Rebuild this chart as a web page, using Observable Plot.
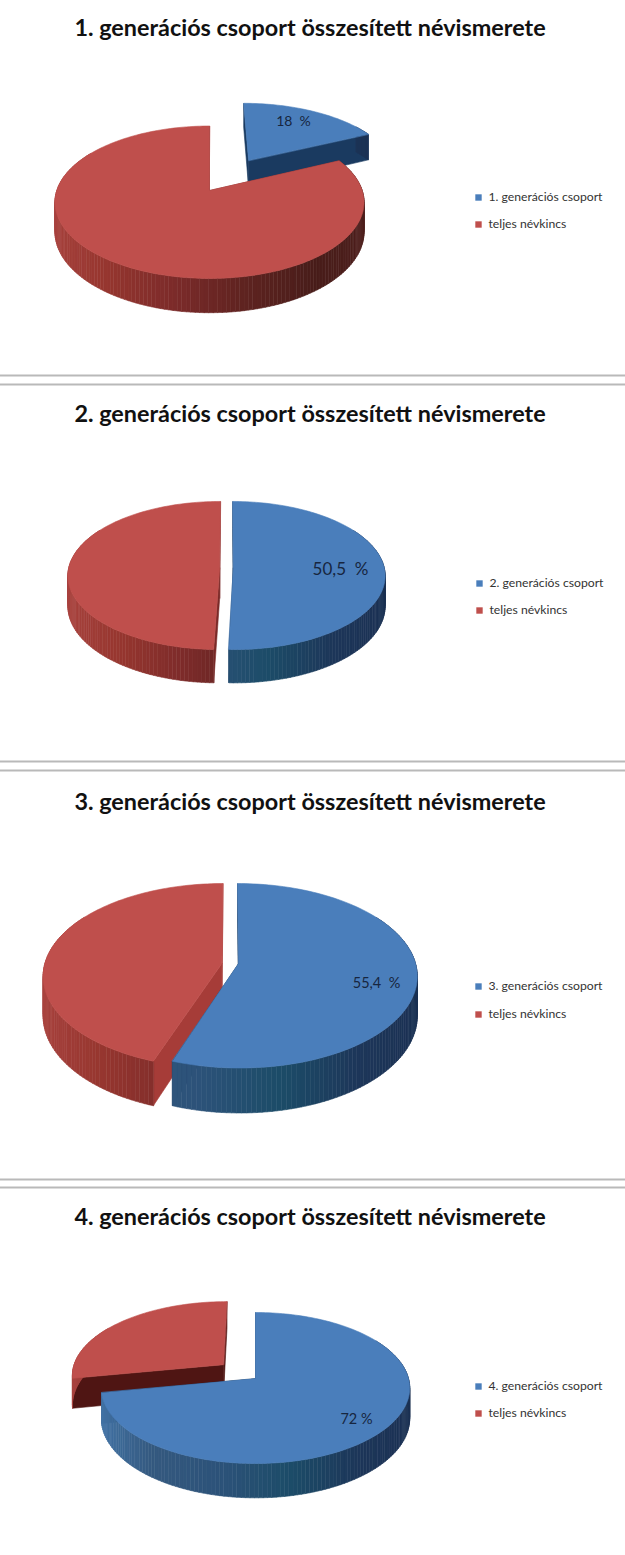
<!DOCTYPE html>
<html lang="hu">
<head>
<meta charset="utf-8">
<style>
  html, body { margin: 0; padding: 0; background: #fff; }
  svg { display: block; }
</style>
<script src="https://cdn.jsdelivr.net/npm/d3@7"></script>
<script src="https://cdn.jsdelivr.net/npm/@observablehq/plot@0.6"></script>
</head>
<body>
<div id="chart"></div>
<script>
// ---- data ----
const titles = [
  "1. generációs csoport összesített névismerete",
  "2. generációs csoport összesített névismerete",
  "3. generációs csoport összesített névismerete",
  "4. generációs csoport összesített névismerete"
];
const groupShares = [18, 50.5, 55.4, 72];
const shareLabels = ["18  %", "50,5  %", "55,4  %", "72 %"];
const legendGroups = ["1. generációs csoport", "2. generációs csoport", "3. generációs csoport", "4. generációs csoport"];
const legendRest = ["teljes névkincs", "teljes névkincs", "teljes névkincs", "teljes névkincs"];

// ---- layout and styling (not data) ----
const W = 625, H = 1555;
const BLUE = "#4a7ebb", RED = "#bf4f4c";
const SIDE_RED = ["#a9433f", "#96362f", "#7c2b2a", "#5e2320", "#481d1a", "#4f201d"];
const SIDE_BLUE = ["#4475a8", "#34597f", "#2c5279", "#1c4c68", "#1d3659", "#1b3153"];
// per pie: perspective ellipse, tilt k, wall height, explosion of each slice, paint order
const views = [
  {cx: 209, cy: 190, rx: 152.7, ry: 74.4, k: 0.154, h: 29, blueOff: [0.273, 0.43], redOff: [0, 0], order: ["blue", "red"], blueCut: "#1a3a60", redCut: "#7a2a28",
   titleY: 28, legendY: [197, 224], legendX: 478, labelX: 293, labelY: 121, labelSize: 14},
  {cx: 226, cy: 567.6, rx: 151, ry: 73.3, k: 0.1, h: 30, blueOff: [0.045, 0], redOff: [-0.045, 0], order: ["red", "blue"], blueCut: "#1a3a60", redCut: "#7a2a28",
   titleY: 414, legendY: [583, 610], legendX: 479, labelX: 340, labelY: 569, labelSize: 17},
  {cx: 229.7, cy: 963, rx: 177, ry: 90.6, k: 0.133, h: 39, blueOff: [0.047, 0], redOff: [-0.047, 0], order: ["red", "blue"], blueCut: "#1a3a60", redCut: "#a63c38",
   titleY: 802, legendY: [986, 1014], legendX: 478, labelX: 376, labelY: 983, labelSize: 14.5},
  {cx: 255, cy: 1378, rx: 153, ry: 74.3, k: 0.126, h: 30, blueOff: [0, 0], redOff: [-0.214, 0.19], order: ["red", "blue"], blueCut: "#1a3a60", redCut: "#4f1513",
   titleY: 1217, legendY: [1386, 1413], legendX: 478, labelX: 356, labelY: 1419, labelSize: 14.5}
];
const separators = [375, 384, 761, 770, 1179, 1187];

// ---- geometry: a tilted disc seen in perspective, cut by the shares ----
const rad = d3.scaleLinear([0, 100], [0, 2 * Math.PI]);
function project(view, off, theta, radius, drop) {
  const u = radius * Math.sin(theta) + off[0];
  const v = radius * Math.cos(theta) + off[1];
  const d = 1 + view.k * v;
  return {x: view.cx + view.rx * u / d, y: view.cy - view.ry * v / d + drop * view.h / d};
}
const polygons = [];
let polyId = 0;
function poly(points, fill) {
  const id = polyId++;
  for (const p of points) polygons.push({id, x: p.x, y: p.y, fill});
}
function drawSlice(view, off, a0, a1, top, stops, cut) {
  const ramp = d3.scaleLinear(d3.range(stops.length).map(i => i / (stops.length - 1)), stops);
  const apex = project(view, off, 0, 0, 0), apexLow = project(view, off, 0, 0, 1);
  for (const a of [a0, a1]) {
    poly([apex, project(view, off, a, 1, 0), project(view, off, a, 1, 1), apexLow], cut);
  }
  const n = Math.max(2, Math.ceil((a1 - a0) / 0.025));
  for (let i = 0; i < n; i++) {
    const t0 = a0 + (a1 - a0) * i / n, t1 = a0 + (a1 - a0) * (i + 1) / n;
    if (Math.cos((t0 + t1) / 2) > 0.55) continue; // hidden behind the top face
    poly([project(view, off, t0, 1, 0), project(view, off, t1, 1, 0), project(view, off, t1, 1, 1), project(view, off, t0, 1, 1)],
      ramp((Math.sin((t0 + t1) / 2) + 1) / 2));
  }
  const rim = d3.range(n + 1).map(i => project(view, off, a0 + (a1 - a0) * i / n, 1, 0));
  poly([apex, ...rim], top);
}
views.forEach((view, i) => {
  const split = rad(groupShares[i]);
  for (const s of view.order) {
    if (s === "blue") drawSlice(view, view.blueOff, 0, split, BLUE, SIDE_BLUE, view.blueCut);
    else drawSlice(view, view.redOff, split, 2 * Math.PI, RED, SIDE_RED, view.redCut);
  }
});

const legendRows = views.flatMap((view, i) => [
  {x: view.legendX, y: view.legendY[0], fill: BLUE, text: legendGroups[i]},
  {x: view.legendX, y: view.legendY[1], fill: RED, text: legendRest[i]}
]);

const plot = Plot.plot({
  width: W, height: H,
  marginTop: 0, marginRight: 0, marginBottom: 0, marginLeft: 0,
  style: {background: "#fff"},
  x: {domain: [0, W], range: [0, W], axis: null},
  y: {domain: [0, H], range: [0, H], axis: null},
  color: {type: "identity"},
  marks: [
    Plot.ruleY(separators, {stroke: "#b9b9b9", strokeWidth: 2}),
    Plot.line(polygons, {x: "x", y: "y", z: "id", fill: "fill", stroke: "fill", strokeWidth: 0.6, curve: "linear-closed"}),
    Plot.text(titles, {
      x: () => W / 2 - 3, y: (d, i) => views[i].titleY, text: d => d,
      fontFamily: "Lato", fontWeight: 700, fontSize: 23.4, fill: "#111", textAnchor: "middle"
    }),
    Plot.text(shareLabels, {
      x: (d, i) => views[i].labelX, y: (d, i) => views[i].labelY, text: d => d,
      fontFamily: "Lato", fontSize: (d, i) => views[i].labelSize, fill: "#17263f", textAnchor: "middle"
    }),
    Plot.dot(legendRows, {x: "x", y: "y", symbol: "square", r: 3.6, fill: "fill"}),
    Plot.text(legendRows, {
      x: d => d.x + 10, y: "y", text: "text",
      fontFamily: "Lato", fontSize: 12.2, fill: "#333", textAnchor: "start"
    })
  ]
});
document.getElementById("chart").append(plot);
</script>
</body>
</html>
